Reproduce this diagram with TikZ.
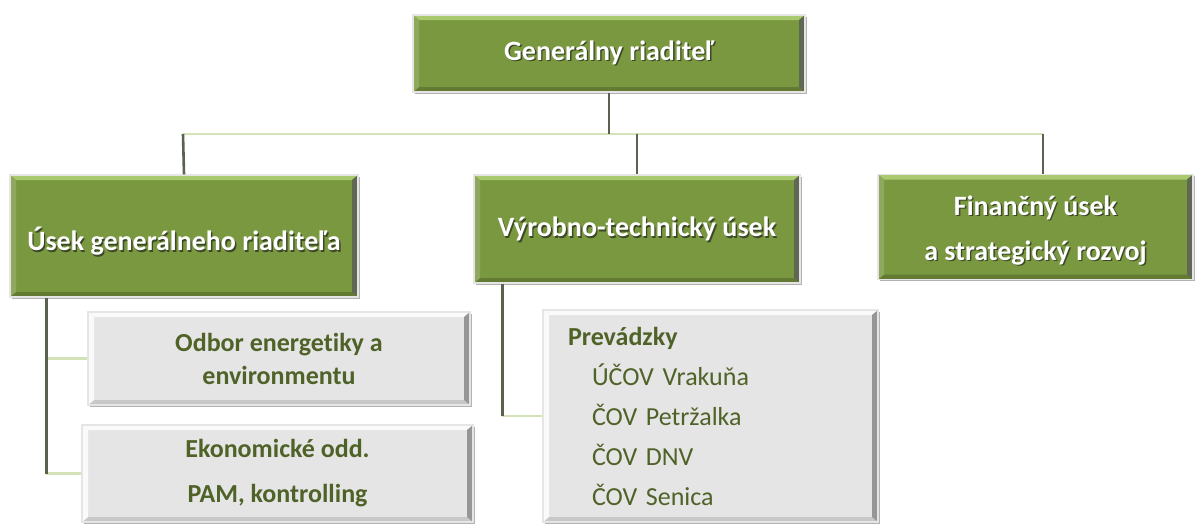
\documentclass[tikz,border=0pt]{standalone}
\usepackage{fontspec}
\setmainfont{Carlito}[Ligatures=NoCommon]
\usetikzlibrary{shadows}

\definecolor{boxgreen}{RGB}{122,152,64}
\definecolor{greenhi}{RGB}{170,202,112}
\definecolor{greenlo}{RGB}{98,122,50}
\definecolor{greenedge}{RGB}{96,104,84}
\definecolor{boxgrey}{RGB}{229,229,229}
\definecolor{greyhi}{RGB}{250,250,250}
\definecolor{greylo}{RGB}{200,200,200}
\definecolor{greyedge}{RGB}{150,150,150}
\definecolor{darkolive}{RGB}{79,98,40}
\definecolor{trunkc}{RGB}{88,98,78}
\definecolor{branchc}{RGB}{212,226,184}
\definecolor{txtshadow}{RGB}{60,72,40}

% white lettering with a soft offset shadow
\newcommand\shd[1]{\leavevmode\rlap{\kern1.4pt\raisebox{-1.4pt}{\color{txtshadow}#1}}#1}
% drop a line of text without changing its reported size
\newcommand\dropby[2]{\raisebox{-#1}[\height][\depth]{#2}}

\tikzset{
  bevelbox/.style n args={4}{
    path picture={
      \coordinate (pnw) at (path picture bounding box.north west);
      \coordinate (pne) at (path picture bounding box.north east);
      \coordinate (psw) at (path picture bounding box.south west);
      \coordinate (pse) at (path picture bounding box.south east);
      % upper highlight
      \fill[#1] (pnw) -- (pne) -- ([shift={(-6pt,-5pt)}]pne) -- ([shift={(6pt,-5pt)}]pnw) -- cycle;
      % lower shade
      \fill[#2] (psw) -- (pse) -- ([shift={(-6pt,5pt)}]pse) -- ([shift={(6pt,5pt)}]psw) -- cycle;
      % right edge
      \fill[#3] (pne) -- (pse) -- ([shift={(-6pt,5pt)}]pse) -- ([shift={(-6pt,-5pt)}]pne) -- cycle;
      % left edge
      \fill[#4] (pnw) -- (psw) -- ([shift={(6pt,5pt)}]psw) -- ([shift={(6pt,-5pt)}]pnw) -- cycle;
    }
  },
  unitbox/.style={rectangle, inner sep=0pt, align=center,
    draw=black!10, line width=1.2pt,
    drop shadow={shadow xshift=1.5pt, shadow yshift=-1.5pt, opacity=.3, fill=black}},
  greenbox/.style={unitbox, fill=boxgreen, text=white,
    font=\bfseries\fontsize{28}{45}\selectfont,
    bevelbox={greenhi}{greenlo}{greenedge}{boxgreen!85!white}},
  greybox/.style={unitbox, fill=boxgrey, text=darkolive,
    bevelbox={greyhi}{greylo}{greyedge}{greyhi}},
  trunk/.style={draw=trunkc, line width=2.6pt},
  branch/.style={draw=branchc, line width=2.6pt},
}

\begin{document}
\begin{tikzpicture}[x=1pt, y=-1pt]
\useasboundingbox (0,0) rectangle (1196,525);

% junction points of the connector bus
\coordinate (bus) at (609,134);
\coordinate (busL) at (183,134);
\coordinate (busR) at (1043,134);

% boxes
\node[greenbox, minimum width=392pt, minimum height=77pt] (gr) at (609,53.5) {\shd{Generálny riaditeľ}};

\node[greenbox, minimum width=348pt, minimum height=122pt] (ugr) at (184,236) {\dropby{6pt}{\shd{Úsek generálneho riaditeľa}}};
\node[greenbox, minimum width=326pt, minimum height=108pt] (vts) at (637,229) {\dropby{1pt}{\shd{Výrobno-technický úsek}}};
\node[greenbox, minimum width=315pt, minimum height=105pt] (fin) at (1035.5,227) {\dropby{4pt}{\shd{Finančný úsek}}\\\dropby{4pt}{\shd{a strategický rozvoj}}};

\node[greybox, minimum width=382pt, minimum height=93pt,
      font=\bfseries\fontsize{26}{33}\selectfont] (oee) at (279,358.5) {Odbor energetiky a\\environmentu};
\node[greybox, minimum width=391pt, minimum height=97pt,
      font=\bfseries\fontsize{26}{45}\selectfont] (eko) at (277.5,473.5) {Ekonomické odd.\\PAM, kontrolling};
\node[greybox, minimum width=335pt, minimum height=212pt, align=left,
      text width=285pt, inner xsep=25pt,
      font=\fontsize{26}{40}\selectfont] (prev) at (710.5,416)
  {\textbf{Prevádzky}\\
   \hspace*{24pt}ÚČOV Vrakuňa\\
   \hspace*{24pt}ČOV Petržalka\\
   \hspace*{24pt}ČOV DNV\\
   \hspace*{24pt}ČOV Senica};

% top level connectors
\draw[branch] (busL) -- (busR);
\draw[trunk] (gr.south) -- (bus);
\draw[trunk] (busL) -- (ugr.north);
\draw[trunk] (vts.north |- bus) -- (vts.north);
\draw[trunk] (busR) -- (busR |- fin.north);

% left subtree
\coordinate (lt) at ([xshift=37pt]ugr.south west);
\draw[branch] (oee.west -| lt) -- (oee.west);
\draw[branch] (eko.west -| lt) -- (eko.west);
\draw[trunk] (lt) -- (lt |- eko.west);

% middle subtree
\coordinate (mt) at ([xshift=29pt]vts.south west);
\draw[branch] (prev.west -| mt) -- (prev.west);
\draw[trunk] (mt) -- (mt |- prev.west);
\end{tikzpicture}
\end{document}
